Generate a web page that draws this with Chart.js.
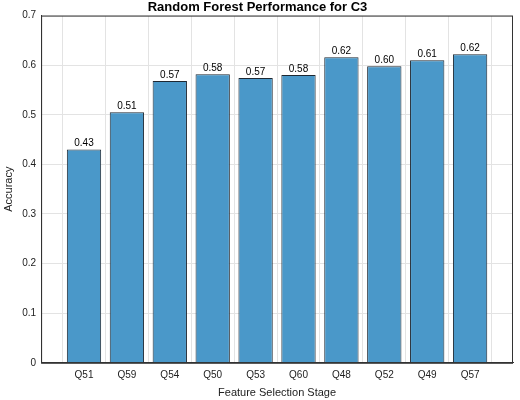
<!DOCTYPE html>
<html>
<head>
<script src="https://cdn.jsdelivr.net/npm/chart.js@4"></script>
<style>
  body { margin: 0; background: #fff; }
  #wrap { width: 520px; height: 400px; }
</style>
</head>
<body>
<div id="wrap"><canvas id="rf-chart"></canvas></div>
<script>
// data
const stages = ['Q51', 'Q59', 'Q54', 'Q50', 'Q53', 'Q60', 'Q48', 'Q52', 'Q49', 'Q57'];
const accuracy = [0.430, 0.505, 0.568, 0.582, 0.574, 0.580, 0.616, 0.598, 0.610, 0.622];
const yTicks = [0, 0.1, 0.2, 0.3, 0.4, 0.5, 0.6, 0.7];

// numbers on top of the bars, plus the box around the plot
const valueLabels = {
    id: 'valueLabels',
    afterDatasetsDraw(chart) {
        const ctx = chart.ctx;
        const meta = chart.getDatasetMeta(0);
        const a = chart.chartArea;
        ctx.save();
        ctx.strokeStyle = '#333';
        ctx.lineWidth = 1;
        ctx.strokeRect(a.left + 0.5, a.top + 0.5, a.right - a.left - 1, a.bottom - a.top);
        ctx.font = '10px "Liberation Sans", Arial, sans-serif';
        ctx.fillStyle = '#000';
        ctx.textAlign = 'center';
        ctx.textBaseline = 'bottom';
        meta.data.forEach((bar, i) => {
            ctx.fillText(accuracy[i].toFixed(2), bar.x, bar.y - 1);
        });
        ctx.restore();
    }
};

const RF_Chart = document.getElementById('rf-chart');

const rfChart = new Chart(RF_Chart, {
    type: 'bar',
    data: {
        datasets: [
            {
                label: 'Accuracy',
                data: accuracy.map((v, i) => ({ x: i + 1, y: v })),
                backgroundColor: 'rgb(74, 152, 201)',
                borderColor: 'rgb(30, 40, 50)',
                borderWidth: 1,
                barPercentage: 0.8,
                categoryPercentage: 1,
            },
        ],
    },
    options: {
        responsive: true,
        maintainAspectRatio: false,
        animation: false,
        layout: { padding: { left: 2, right: 7, top: 0, bottom: 0 } },
        plugins: {
            legend: { display: false },
            tooltip: { enabled: false },
            title: {
                display: true,
                text: 'Random Forest Performance for C3',
                color: '#000',
                font: { family: '"Liberation Sans", Arial, sans-serif', size: 13, weight: 'bold' },
                padding: { top: 0, bottom: 0 }
            }
        },
        scales: {
            x: {
                type: 'linear',
                min: 0,
                max: 11,
                offset: false,
                afterBuildTicks: (axis) => { axis.ticks = stages.map((s, i) => ({ value: i + 1 })); },
                grid: { color: '#e3e3e3', drawTicks: false },
                border: { color: '#333' },
                ticks: { color: '#222', font: { size: 10 }, padding: 6, callback: (v) => stages[v - 1] },
                title: {
                    display: true,
                    text: 'Feature Selection Stage',
                    color: '#222',
                    font: { size: 11 },
                    padding: { top: 0, bottom: 0 }
                }
            },
            y: {
                min: 0,
                max: 0.7,
                afterBuildTicks: (axis) => { axis.ticks = yTicks.map(v => ({ value: v })); },
                grid: { color: '#e3e3e3', drawTicks: false },
                border: { color: '#333' },
                ticks: { color: '#222', font: { size: 10 }, padding: 5, callback: (v) => String(Math.round(v * 10) / 10) },
                title: {
                    display: true,
                    text: 'Accuracy',
                    color: '#222',
                    font: { size: 11 },
                    padding: { top: 0, bottom: 2 }
                }
            }
        }
    },
    plugins: [valueLabels]
});
</script>
</body>
</html>
